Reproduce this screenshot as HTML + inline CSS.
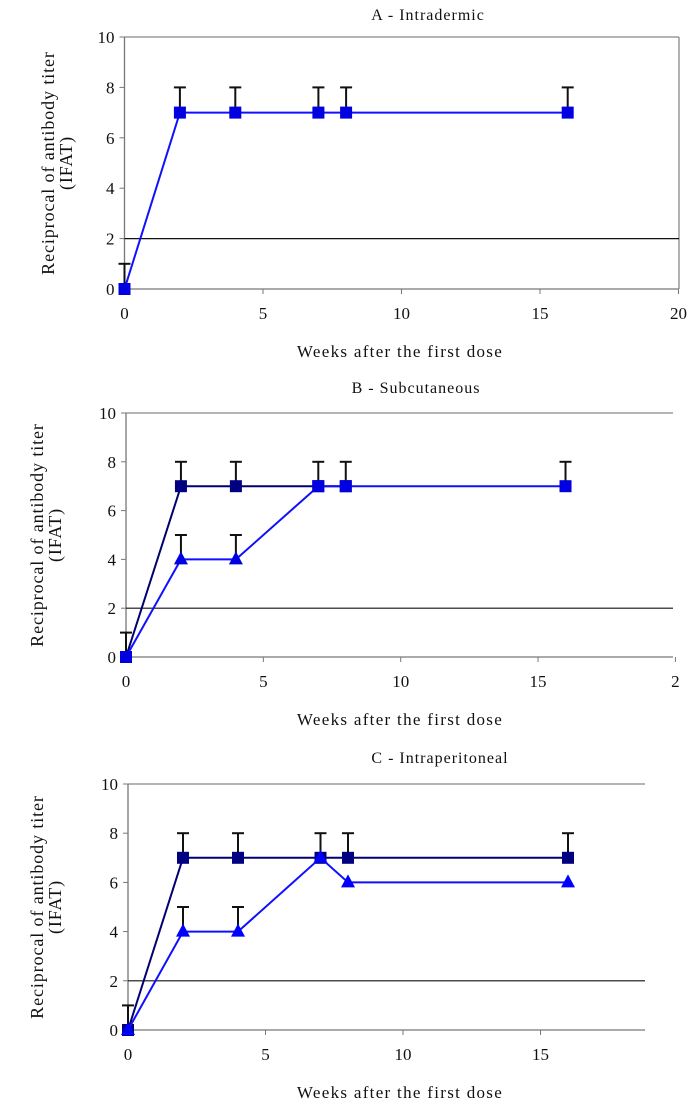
<!DOCTYPE html>
<html><head><meta charset="utf-8"><style>
body{margin:0;background:#fff;}
svg{display:block;font-family:"Liberation Serif",serif;}
text{fill:#111;}
</style></head><body>
<svg id="s" width="688" height="1111" xmlns="http://www.w3.org/2000/svg"></svg>
<script>
const s=document.getElementById('s');let h='';
function chart(o){
 const X=v=>o.x0+v*o.ux, Y=v=>o.y0-v*o.uy;
 const yt=Y(10), xr=o.xr;
 h+=`<line x1="${o.x0}" y1="${yt}" x2="${xr}" y2="${yt}" stroke="#888" stroke-width="1.3"/>`;
 if(o.box)h+=`<line x1="${xr}" y1="${yt}" x2="${xr}" y2="${o.y0}" stroke="#888" stroke-width="1.3"/>`;
 h+=`<line x1="${o.x0}" y1="${yt}" x2="${o.x0}" y2="${o.y0}" stroke="#777" stroke-width="1.3"/>`;
 h+=`<line x1="${o.x0}" y1="${o.y0}" x2="${xr}" y2="${o.y0}" stroke="#777" stroke-width="1.3"/>`;
 h+=`<line x1="${o.x0}" y1="${Y(2)}" x2="${xr}" y2="${Y(2)}" stroke="#111" stroke-width="1.2"/>`;
 for(let v=0;v<=10;v+=2){h+=`<line x1="${o.x0-5}" y1="${Y(v)}" x2="${o.x0}" y2="${Y(v)}" stroke="#777"/>`;
  h+=`<text x="${o.x0-10}" y="${Y(v)+6}" font-size="17" text-anchor="end">${v}</text>`;}
 o.xt.forEach((l,i)=>{const v=i*5;const x=X(v);if(v>0)h+=`<line x1="${x}" y1="${o.y0}" x2="${x}" y2="${o.y0+5}" stroke="#777"/>`;
  h+=`<text x="${x}" y="${o.y0+30}" font-size="17" text-anchor="middle">${l}</text>`;});
 h+=`<text x="${o.tx}" y="${o.ty}" font-size="16" text-anchor="middle" letter-spacing="1">${o.title}</text>`;
 h+=`<text x="${o.lx}" y="${o.y0+68}" font-size="17" text-anchor="middle" letter-spacing="1.3">Weeks after the first dose</text>`;
 const cy=(yt+o.y0)/2;
 h+=`<text transform="translate(${o.yl},${cy}) rotate(-90)" font-size="18" text-anchor="middle" letter-spacing="0.9">Reciprocal of antibody titer</text>`;
 h+=`<text transform="translate(${o.yl+18},${cy}) rotate(-90)" font-size="18" text-anchor="middle" letter-spacing="0.9">(IFAT)</text>`;
 o.err.forEach(([x,a,b])=>{h+=`<line x1="${X(x)}" y1="${Y(a)}" x2="${X(x)}" y2="${Y(b)}" stroke="#111" stroke-width="2"/><line x1="${X(x)-6}" y1="${Y(b)}" x2="${X(x)+6}" y2="${Y(b)}" stroke="#111" stroke-width="2"/>`;});
 o.series.forEach(sr=>{
  h+=`<polyline points="${sr.d.map(p=>X(p[0])+','+Y(p[1])).join(' ')}" fill="none" stroke="${sr.c}" stroke-width="2"/>`;
  sr.d.forEach((p,i)=>{if(sr.skip&&sr.skip.includes(i))return;const x=X(p[0]),y=Y(p[1]);
   const m=sr.ms?sr.ms[i]:sr.m;
   if(m=='s')h+=`<rect x="${x-6}" y="${y-6}" width="12" height="12" fill="${sr.f}"/>`;
   else h+=`<polygon points="${x},${y-8} ${x-7},${y+5} ${x+7},${y+5}" fill="${sr.f}"/>`;});
 });
}
const wk=[0,2,4,7,8,16];
chart({x0:124.5,ux:27.7,y0:289,uy:25.2,xr:679,box:true,xt:['0','5','10','15','20'],title:'A - Intradermic',tx:428,ty:20,lx:400,yl:54,
 err:[[0,0,1],[2,7,8],[4,7,8],[7,7,8],[8,7,8],[16,7,8]],
 series:[{d:wk.map((w,i)=>[w,i?7:0]),c:'#1010ff',f:'#0000e0',m:'s'}]});
chart({x0:126,ux:27.47,y0:657,uy:24.4,xr:673,box:false,xt:['0','5','10','15','2'],title:'B - Subcutaneous',tx:416,ty:393,lx:400,yl:43,
 err:[[0,0,1],[2,7,8],[4,7,8],[7,7,8],[8,7,8],[16,7,8],[2,4,5],[4,4,5]],
 series:[{d:[[0,0],[2,7],[4,7],[7,7],[8,7]],c:'#000070',f:'#000080',m:'s'},
   {d:[[0,0],[2,4],[4,4],[7,7],[8,7],[16,7]],c:'#1010ff',f:'#0000e0',ms:['s','t','t','s','s','s']}]});
chart({x0:128,ux:27.5,y0:1030,uy:24.6,xr:645,box:false,xt:['0','5','10','15'],title:'C - Intraperitoneal',tx:440,ty:763,lx:400,yl:43,
 err:[[0,0,1],[2,7,8],[4,7,8],[7,7,8],[8,7,8],[16,7,8],[2,4,5],[4,4,5]],
 series:[{d:wk.map((w,i)=>[w,i?7:0]),c:'#000070',f:'#000080',m:'s'},
   {d:[[0,0],[2,4],[4,4],[7,7],[8,6],[16,6]],c:'#1010ff',f:'#0000ff',m:'t'}]});
s.innerHTML=h;
</script>
</body></html>
